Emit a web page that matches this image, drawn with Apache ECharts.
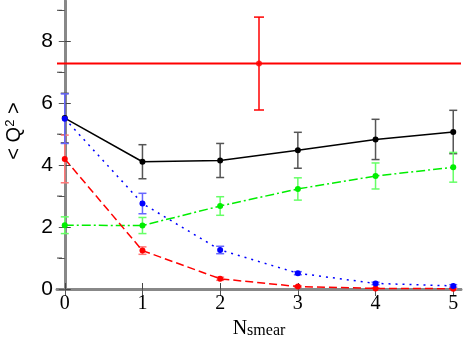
<!DOCTYPE html>
<html>
<head>
<meta charset="utf-8">
<script src="https://cdn.jsdelivr.net/npm/echarts@6/dist/echarts.min.js"></script>
<style>
  html, body { margin: 0; padding: 0; background: #fff; }
  #chart { width: 465px; height: 338px; }
</style>
</head>
<body>
<div id="chart"></div>
<script>
// smearing steps
const nSmear = [0, 1, 2, 3, 4, 5];
const xTicks = [0, 1, 2, 3, 4, 5];
const yTicks = [0, 2, 4, 6, 8];
const yMinor = [1, 3, 5, 7, 9];

// <Q^2> values and errors
const blackVals = [5.52, 4.11, 4.15, 4.48, 4.83, 5.07];
const blackErr  = [0.8, 0.55, 0.55, 0.58, 0.65, 0.7];
const redVals   = [4.2, 1.24, 0.33, 0.08, 0.02, 0.01];
const redErr    = [0.77, 0.12, 0.05, 0.02, 0.01, 0.01];
const blueVals  = [5.5, 2.76, 1.26, 0.51, 0.18, 0.1];
const blueErr   = [0.8, 0.33, 0.12, 0.05, 0.04, 0.04];
const greenVals = [2.06, 2.05, 2.68, 3.23, 3.65, 3.93];
const greenErr  = [0.27, 0.26, 0.3, 0.36, 0.42, 0.48];

// single reference point with horizontal line
const refX = 2.5;
const refVal = 7.28;
const refErr = 1.5;

const serif = '"Liberation Serif", "DejaVu Serif", serif';
const sans = '"Liberation Sans", Arial, sans-serif';

function pts(vals) {
  return nSmear.map((x, i) => [x, vals[i]]);
}
function errPts(vals, errs) {
  return nSmear.map((x, i) => [x, vals[i] - errs[i], vals[i] + errs[i]]);
}

function errorBars(data, color, capHalf) {
  return {
    type: 'custom',
    silent: true,
    z: 2,
    data: data,
    renderItem: function (params, api) {
      const x = api.value(0);
      const lo = api.coord([x, api.value(1)]);
      const hi = api.coord([x, api.value(2)]);
      const st = { stroke: color, lineWidth: 1.5 };
      return {
        type: 'group',
        children: [
          { type: 'line', shape: { x1: lo[0], y1: lo[1], x2: hi[0], y2: hi[1] }, style: st },
          { type: 'line', shape: { x1: lo[0] - capHalf, y1: lo[1], x2: lo[0] + capHalf, y2: lo[1] }, style: st },
          { type: 'line', shape: { x1: hi[0] - capHalf, y1: hi[1], x2: hi[0] + capHalf, y2: hi[1] }, style: st }
        ]
      };
    }
  };
}

function lineSeries(vals, color, dash) {
  return {
    type: 'line',
    data: pts(vals),
    symbol: 'circle',
    symbolSize: 6,
    z: 3,
    itemStyle: { color: color },
    lineStyle: { color: color, width: 1.5, type: dash },
    animation: false
  };
}

const chart = echarts.init(document.getElementById('chart'));

const option = {
  animation: false,
  grid: { left: 57, right: 4, top: 1, bottom: 49, outerBoundsMode: 'none', containLabel: false },
  xAxis: [
    {
      type: 'value',
      min: -0.1,
      max: 5.1,
      name: 'N{sub|smear}',
      nameLocation: 'middle',
      nameGap: 23,
      nameTextStyle: {
        fontFamily: serif, fontSize: 20, color: '#000',
        rich: { sub: { fontFamily: serif, fontSize: 16, verticalAlign: 'bottom', padding: [3, 0, 0, 0] } }
      },
      axisLine: { lineStyle: { color: '#000', width: 1.5 } },
      axisTick: { inside: true, length: 6, customValues: xTicks, lineStyle: { color: '#444' } },
      axisLabel: { customValues: xTicks, fontFamily: serif, fontSize: 20, color: '#000', margin: 5 },
      splitLine: { show: false }
    },
    {
      type: 'value',
      position: 'top',
      min: -0.1,
      max: 5.1,
      axisLine: { show: true, lineStyle: { color: '#888', width: 3 } },
      axisTick: { inside: true, length: 7, customValues: xTicks, lineStyle: { color: '#555' } },
      axisLabel: { show: false },
      splitLine: { show: false }
    }
  ],
  yAxis: [
    {
      type: 'value',
      min: 0,
      max: 9.3,
      name: '< Q{sup|2} >',
      nameLocation: 'middle',
      nameGap: 32,
      nameTextStyle: {
        fontFamily: sans, fontSize: 20, color: '#000',
        padding: [0, 0, 0, 28],
        rich: { sup: { fontFamily: sans, fontSize: 13, verticalAlign: 'top', padding: [0, 0, 8, 0] } }
      },
      axisLine: { show: true, lineStyle: { color: '#000', width: 1.5 } },
      axisTick: { inside: true, length: 6, customValues: yTicks, lineStyle: { color: '#444' } },
      axisLabel: { customValues: yTicks, fontFamily: sans, fontSize: 21, color: '#000', margin: 4 },
      splitLine: { show: false }
    },
    {
      type: 'value',
      position: 'right',
      min: 0,
      max: 9.3,
      axisLine: { show: true, lineStyle: { color: '#888', width: 3 } },
      axisTick: { inside: true, length: 6, customValues: yTicks.concat(yMinor), lineStyle: { color: '#555' } },
      axisLabel: { show: false },
      splitLine: { show: false }
    }
  ],
  series: [
    // minor ticks on the left axis
    {
      type: 'custom',
      silent: true,
      data: yMinor.map(v => [v]),
      renderItem: function (params, api) {
        const p = api.coord([-0.1, api.value(0)]);
        return { type: 'line', shape: { x1: p[0], y1: p[1], x2: p[0] + 5, y2: p[1] }, style: { stroke: '#444', lineWidth: 1 } };
      }
    },
    errorBars(errPts(blackVals, blackErr), '#555', 4),
    errorBars(errPts(greenVals, greenErr), '#66ff66', 4),
    errorBars(errPts(redVals, redErr), '#ff7777', 4),
    errorBars(errPts(blueVals, blueErr), '#6666ff', 4),
    errorBars([[refX, refVal - refErr, refVal + refErr]], '#ff0000', 5),
    lineSeries(blackVals, '#000000', 'solid'),
    lineSeries(greenVals, '#00ee00', [9, 3, 2, 3]),
    lineSeries(redVals, '#ff0000', [8, 4]),
    lineSeries(blueVals, '#0000ff', [2, 5]),
    {
      type: 'line',
      data: [[-0.1, refVal], [5.1, refVal]],
      symbol: 'none',
      z: 3,
      lineStyle: { color: '#ff0000', width: 2 }
    },
    {
      type: 'scatter',
      data: [[refX, refVal]],
      symbol: 'circle',
      symbolSize: 6,
      z: 4,
      itemStyle: { color: '#ff0000' }
    }
  ]
};

chart.setOption(option);
</script>
</body>
</html>
